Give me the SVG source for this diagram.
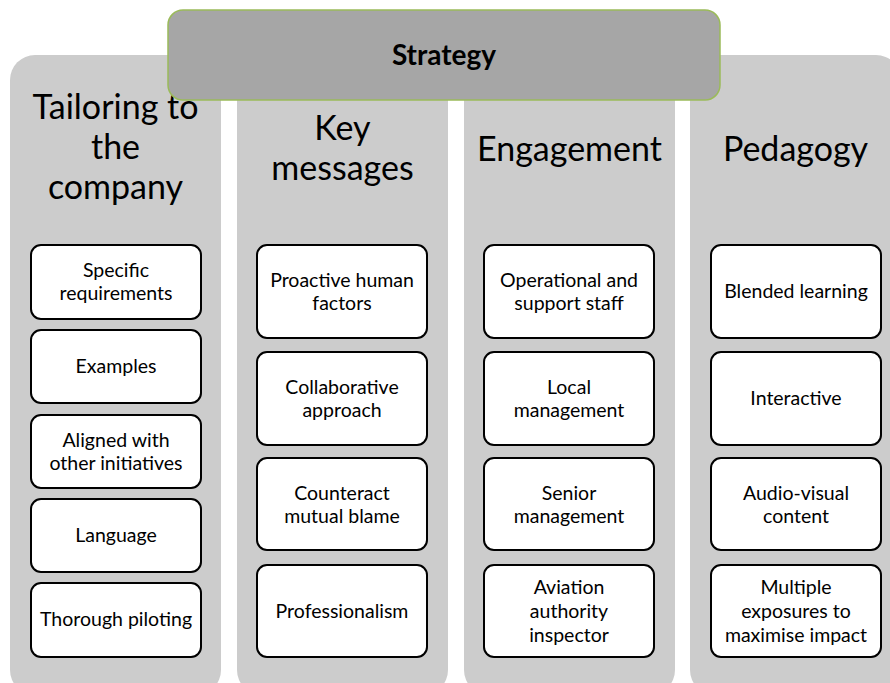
<svg xmlns="http://www.w3.org/2000/svg" width="890" height="683" viewBox="0 0 890 683">
<style>
.col{fill:#cccccc;}
.box{fill:#ffffff;stroke:#000000;stroke-width:2;}
.head{font-family:Lato,"Open Sans",sans-serif;font-size:34px;fill:#000;text-anchor:middle;}
.t{font-family:Lato,"Open Sans",sans-serif;font-size:19.5px;fill:#000;text-anchor:middle;}
.strat{fill:#a6a6a6;stroke:#9bbb59;stroke-width:1.5;}
.st{font-family:Lato,"Open Sans",sans-serif;font-size:28px;font-weight:bold;fill:#000;text-anchor:middle;}
</style>
<rect width="890" height="683" fill="#ffffff"/>
<g id="col-tailoring">
<rect class="col" x="10" y="55" width="211" height="640" rx="25"/>
<text class="head" x="115.5" y="119">Tailoring to</text>
<text class="head" x="115.5" y="159">the</text>
<text class="head" x="115.5" y="199">company</text>
</g>
<g id="col-key">
<rect class="col" x="237" y="55" width="211" height="640" rx="25"/>
<text class="head" x="342.5" y="140">Key</text>
<text class="head" x="342.5" y="180">messages</text>
</g>
<g id="col-engagement">
<rect class="col" x="464" y="55" width="211" height="640" rx="25"/>
<text class="head" x="569.5" y="161">Engagement</text>
</g>
<g id="col-pedagogy">
<rect class="col" x="690" y="55" width="211" height="640" rx="25"/>
<text class="head" x="795.5" y="161">Pedagogy</text>
</g>
<g id="strategy">
<rect class="strat" x="168" y="10" width="552" height="90" rx="15"/>
<text class="st" x="444" y="65">Strategy</text>
</g>
<g id="n-specific">
<rect class="box" x="31" y="245" width="170" height="74" rx="10"/>
<text class="t" x="116" y="277">Specific</text>
<text class="t" x="116" y="300">requirements</text>
</g>
<g id="n-examples">
<rect class="box" x="31" y="330" width="170" height="73" rx="10"/>
<text class="t" x="116" y="373">Examples</text>
</g>
<g id="n-aligned">
<rect class="box" x="31" y="415" width="170" height="73" rx="10"/>
<text class="t" x="116" y="447">Aligned with</text>
<text class="t" x="116" y="470">other initiatives</text>
</g>
<g id="n-language">
<rect class="box" x="31" y="499" width="170" height="73" rx="10"/>
<text class="t" x="116" y="542">Language</text>
</g>
<g id="n-piloting">
<rect class="box" x="31" y="583" width="170" height="74" rx="10"/>
<text class="t" x="116" y="626">Thorough piloting</text>
</g>
<g id="n-proactive">
<rect class="box" x="257" y="245" width="170" height="93" rx="10"/>
<text class="t" x="342" y="287">Proactive human</text>
<text class="t" x="342" y="310">factors</text>
</g>
<g id="n-collab">
<rect class="box" x="257" y="352" width="170" height="93" rx="10"/>
<text class="t" x="342" y="394">Collaborative</text>
<text class="t" x="342" y="417">approach</text>
</g>
<g id="n-counteract">
<rect class="box" x="257" y="458" width="170" height="92" rx="10"/>
<text class="t" x="342" y="500">Counteract</text>
<text class="t" x="342" y="523">mutual blame</text>
</g>
<g id="n-professionalism">
<rect class="box" x="257" y="565" width="170" height="92" rx="10"/>
<text class="t" x="342" y="618">Professionalism</text>
</g>
<g id="n-operational">
<rect class="box" x="484" y="245" width="170" height="93" rx="10"/>
<text class="t" x="569" y="287">Operational and</text>
<text class="t" x="569" y="310">support staff</text>
</g>
<g id="n-local">
<rect class="box" x="484" y="352" width="170" height="93" rx="10"/>
<text class="t" x="569" y="394">Local</text>
<text class="t" x="569" y="417">management</text>
</g>
<g id="n-senior">
<rect class="box" x="484" y="458" width="170" height="92" rx="10"/>
<text class="t" x="569" y="500">Senior</text>
<text class="t" x="569" y="523">management</text>
</g>
<g id="n-aviation">
<rect class="box" x="484" y="565" width="170" height="92" rx="10"/>
<text class="t" x="569" y="594">Aviation</text>
<text class="t" x="569" y="618">authority</text>
<text class="t" x="569" y="642">inspector</text>
</g>
<g id="n-blended">
<rect class="box" x="711" y="245" width="170" height="93" rx="10"/>
<text class="t" x="796" y="298">Blended learning</text>
</g>
<g id="n-interactive">
<rect class="box" x="711" y="352" width="170" height="93" rx="10"/>
<text class="t" x="796" y="405">Interactive</text>
</g>
<g id="n-audio">
<rect class="box" x="711" y="458" width="170" height="92" rx="10"/>
<text class="t" x="796" y="500">Audio-visual</text>
<text class="t" x="796" y="523">content</text>
</g>
<g id="n-multiple">
<rect class="box" x="711" y="565" width="170" height="92" rx="10"/>
<text class="t" x="796" y="594">Multiple</text>
<text class="t" x="796" y="618">exposures to</text>
<text class="t" x="796" y="642">maximise impact</text>
</g>
<g id="connectors"></g>
</svg>
